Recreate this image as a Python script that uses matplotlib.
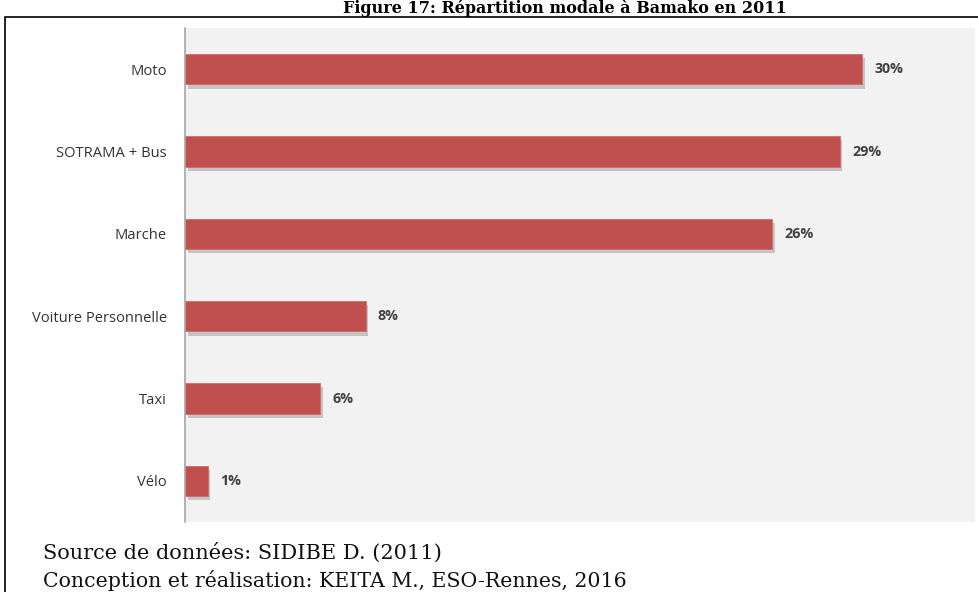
import matplotlib.pyplot as plt
from matplotlib.patches import Rectangle
import matplotlib.patheffects as pe

# données
modes = ['Moto', 'SOTRAMA + Bus', 'Marche', 'Voiture Personnelle', 'Taxi', 'Vélo']
parts = [30, 29, 26, 8, 6, 1]

W, H = 979, 592
fig = plt.figure(figsize=(W / 100, H / 100), dpi=100)

# cadre noir autour de la figure
fig.patches.append(Rectangle((5 / W, -0.05), 1.2, 1.05 - 17 / H, transform=fig.transFigure,
                             fill=False, edgecolor='black', linewidth=1.2, clip_on=False))

ax = fig.add_axes([185 / W, 1 - 522 / H, (975 - 185) / W, (522 - 28) / H])
ax.set_facecolor('#f2f2f2')

y = list(range(len(modes)))
bars = ax.barh(y, parts, height=0.37, color='#c0504d', edgecolor='#d46b68', linewidth=0.6)
for b in bars:
    b.set_path_effects([pe.SimplePatchShadow(offset=(2, -3), shadow_rgbFace='#8c8c8c', alpha=0.45),
                        pe.Normal()])

for yi, v in zip(y, parts):
    ax.text(v + 0.55, yi, f'{v}%', va='center', ha='left', fontsize=10.3,
            color='#404040', fontweight='bold', family='Open Sans')

ax.set_xlim(0, 35)
ax.set_ylim(5.5, -0.5)
ax.set_yticks(y)
ax.set_yticklabels(modes, fontsize=10.6, color='#333333', family='Open Sans')
ax.tick_params(axis='y', length=0, pad=13)
ax.set_xticks([])
for s in ['top', 'right', 'bottom']:
    ax.spines[s].set_visible(False)
ax.spines['left'].set_color('#a6a6a6')
ax.spines['left'].set_linewidth(1.2)

# titre
fig.text(565 / W, 1 - 13 / H, 'Figure 17: Répartition modale à Bamako en 2011', ha='center',
         va='baseline', fontsize=11.5, fontweight='bold', family='DejaVu Serif')

fig.text(43 / W, 1 - 559 / H, 'Source de données: SIDIBE D. (2011)', ha='left', va='baseline',
         fontsize=15, family='DejaVu Serif', color='#111111')
fig.text(43 / W, 1 - 587 / H, 'Conception et réalisation: KEITA M., ESO-Rennes, 2016', ha='left',
         va='baseline', fontsize=14.8, family='DejaVu Serif', color='#111111')

fig.savefig('out.png', dpi=100)
